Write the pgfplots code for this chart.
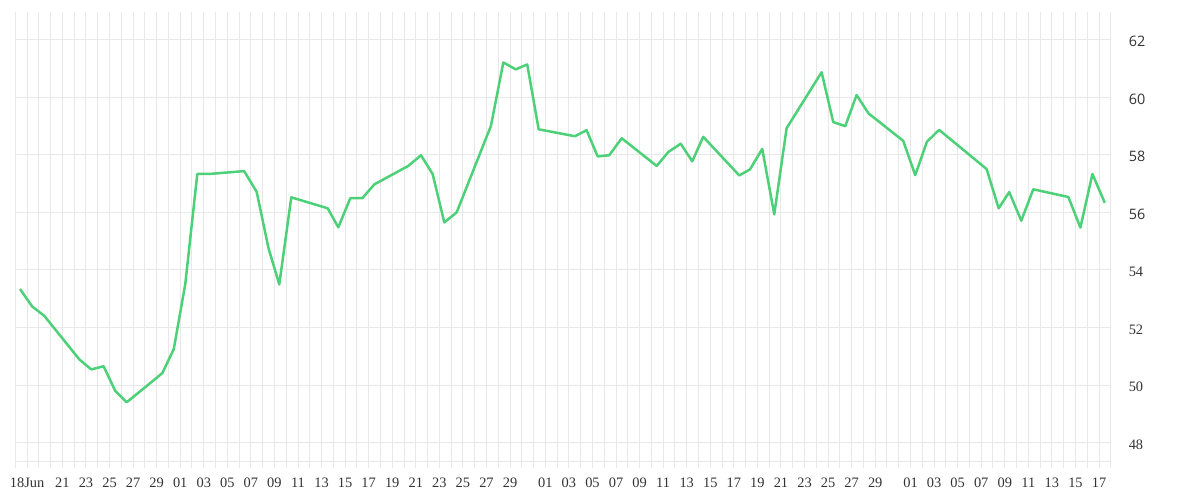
\documentclass[border=0pt]{standalone}
\usepackage{fontspec}
\setmainfont{Liberation Serif}
\newfontfamily\ysans{Open Sans}
\usepackage{pgfplots}
\pgfplotsset{compat=1.18}

\definecolor{linegreen}{RGB}{76,208,120}
\definecolor{gridgray}{RGB}{232,232,232}
\definecolor{labelgray}{RGB}{51,51,51}

% x = days since 17 Jun
\pgfplotstableread{
d v
0.40 53.34
1.44 52.73
2.46 52.41
5.43 50.90
6.45 50.55
7.50 50.66
8.49 49.80
9.46 49.41
12.48 50.42
13.45 51.25
14.43 53.51
15.45 57.33
16.45 57.33
19.43 57.43
20.49 56.71
21.50 54.75
22.41 53.50
23.43 56.52
26.52 56.14
27.42 55.48
28.44 56.49
29.46 56.49
30.48 56.97
33.36 57.61
34.44 57.98
35.43 57.33
36.42 55.65
37.47 56.00
40.38 59.00
41.43 61.20
42.48 60.96
43.46 61.13
44.43 58.88
47.51 58.64
48.50 58.85
49.44 57.94
50.42 57.98
51.48 58.57
54.45 57.61
55.43 58.09
56.49 58.38
57.47 57.77
58.40 58.62
61.46 57.28
62.37 57.49
63.41 58.20
64.43 55.93
65.48 58.92
68.45 60.86
69.44 59.13
70.46 58.99
71.42 60.07
72.44 59.43
75.38 58.48
76.40 57.29
77.39 58.45
78.43 58.86
82.46 57.50
83.48 56.14
84.38 56.70
85.40 55.71
86.42 56.80
89.40 56.53
90.42 55.47
91.44 57.33
92.49 56.33
}\prices

\begin{document}
\begin{tikzpicture}
\path[use as bounding box] (-7.65pt,-16pt) rectangle (592.37pt,234pt);
\begin{axis}[
    at={(0,0)}, anchor=south west,
    scale only axis,
    width=547.77pt, height=228pt,
    xmin=0, xmax=93,
    ymin=47.13, ymax=62.95,
    axis line style={draw=none},
    major tick length=0pt, minor tick length=0pt,
    xtick={1,4,6,8,10,12,14,16,...,42,45,47,...,73,76,78,...,92},
    xticklabels={18Jun,21,23,25,27,29,
        01,03,05,07,09,11,13,15,17,19,21,23,25,27,29,
        01,03,05,07,09,11,13,15,17,19,21,23,25,27,29,
        01,03,05,07,09,11,13,15,17},
    minor xtick={0,1,...,93},
    xmajorgrids, xminorgrids,
    ytick={48,50,...,62},
    yticklabels={48,50,52,54,{\ysans 56},{\ysans 58},{\ysans 60},{\ysans 62}},
    extra y ticks={47.37},
    extra y tick labels={},
    extra y tick style={grid=major},
    ymajorgrids,
    grid style={gridgray, line width=0.5pt},
    minor grid style={gridgray, line width=0.5pt},
    yticklabel pos=right,
    /pgf/number format/assume math mode=true,
    xticklabel style={anchor=north, inner sep=0pt, yshift=-5pt,
        font=\fontsize{7.2}{8}\selectfont, text=labelgray},
    yticklabel style={anchor=west, inner sep=0pt, xshift=8.8pt, yshift=-1pt,
        font=\fontsize{7.2}{8}\selectfont, text=labelgray},
    clip=false,
]
\addplot[linegreen, line width=1.25pt, line join=round, no markers]
    table[x=d, y=v] {\prices};
\end{axis}
\end{tikzpicture}
\end{document}
